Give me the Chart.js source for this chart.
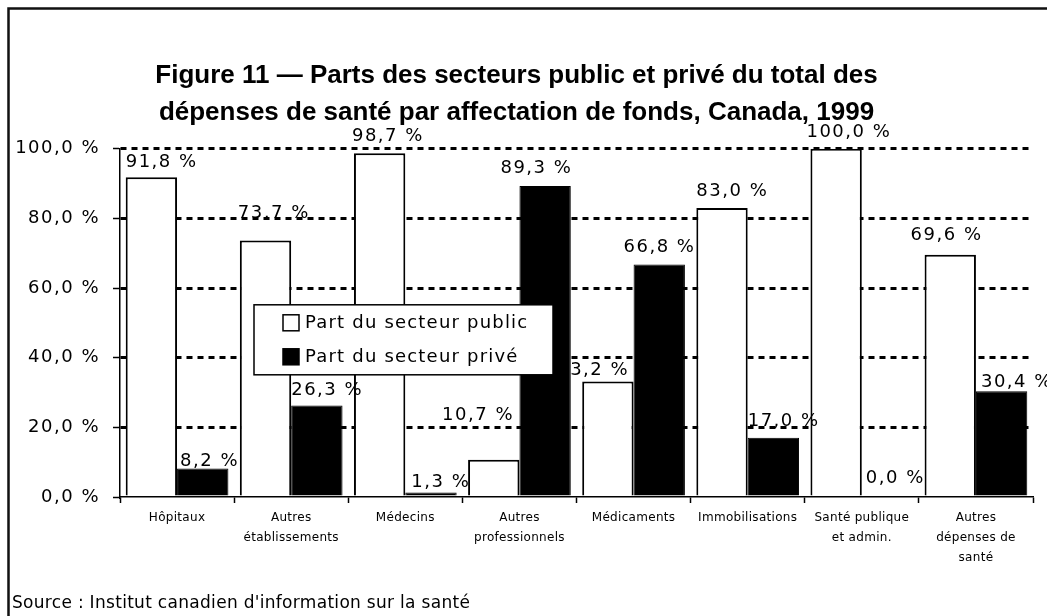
<!DOCTYPE html>
<html lang="fr">
<head>
<meta charset="utf-8">
<title>Figure 11</title>
<script src="https://cdn.jsdelivr.net/npm/chart.js@4/dist/chart.umd.min.js"></script>
<style>
  html, body { margin: 0; padding: 0; background: #fff; }
  #wrap { width: 1047px; height: 616px; }
</style>
</head>
<body>
<div id="wrap"><canvas id="chart" width="1047" height="616"></canvas></div>
<script>
const categories = [
  ["Hôpitaux"],
  ["Autres", "établissements"],
  ["Médecins"],
  ["Autres", "professionnels"],
  ["Médicaments"],
  ["Immobilisations"],
  ["Santé publique", "et admin."],
  ["Autres", "dépenses de", "santé"]
];
const publicShare = [91.8, 73.7, 98.7, 10.7, 33.2, 83.0, 100.0, 69.6];
const privateShare = [8.2, 26.3, 1.3, 89.3, 66.8, 17.0, 0.0, 30.4];
const yTicks = [0, 20, 40, 60, 80, 100];
const seriesNames = ["Part du secteur public", "Part du secteur privé"];
const titleLines = [
  "Figure 11 \u2014 Parts des secteurs public et privé du total des",
  "dépenses de santé par affectation de fonds, Canada, 1999"
];
const sourceText = "Source : Institut canadien d'information sur la santé";

// the value labels were moved by hand in the original, so each one gets a small nudge [dx, dy]
const publicLabelNudge = [[0, 2], [-2, -10], [-2, 0], [-26, -28], [-25, 6], [0, 0], [-4, 0], [-14, -3]];
const privateLabelNudge = [[3, 10], [0, 2], [6, 7], [-19, -1], [-10, 0], [0, 0], [4, -2], [5, 8]];

const TXT = "DejaVu Sans";

function pct(v) {
  return v.toFixed(1).replace(".", ",") + " %";
}

// canvas letterSpacing, to get closer to the wide original font
function spaced(scale, spacing) {
  if (scale._spaced) return;
  scale._spaced = true;
  const orig = scale.drawLabels;
  scale.drawLabels = function (area) {
    const ctx = this.ctx;
    ctx.save();
    ctx.letterSpacing = spacing;
    orig.call(this, area);
    ctx.restore();
  };
}

const decor = {
  id: "decor",
  beforeDraw(chart) {
    const ctx = chart.ctx;
    ctx.save();
    ctx.fillStyle = "#fff";
    ctx.fillRect(0, 0, chart.width, chart.height);
    ctx.restore();
  },
  afterLayout(chart) {
    spaced(chart.scales.y, "1.5px");
    spaced(chart.scales.x, "0.3px");
  },
  afterDatasetsDraw(chart) {
    const ctx = chart.ctx;
    const nudges = [publicLabelNudge, privateLabelNudge];

    // value labels
    ctx.save();
    ctx.letterSpacing = "1.5px";
    ctx.font = "18px '" + TXT + "'";
    ctx.fillStyle = "#000";
    ctx.textAlign = "left";
    ctx.textBaseline = "alphabetic";
    chart.data.datasets.forEach((ds, i) => {
      chart.getDatasetMeta(i).data.forEach((bar, j) => {
        const left = bar.x - bar.width / 2;
        const n = nudges[i][j];
        ctx.fillText(pct(ds.data[j]), left + n[0], bar.y - 12 + n[1]);
      });
    });
    ctx.restore();

    // legend box inside the plot
    const ca = chart.chartArea;
    const lx = ca.left + 134, ly = ca.top + 156, lw = 299, lh = 70;
    ctx.save();
    ctx.fillStyle = "#fff";
    ctx.fillRect(lx, ly, lw, lh);
    ctx.strokeStyle = "#000";
    ctx.lineWidth = 1.5;
    ctx.strokeRect(lx, ly, lw, lh);
    ctx.letterSpacing = "1.2px";
    ctx.font = "18px '" + TXT + "'";
    ctx.textBaseline = "middle";
    chart.data.datasets.forEach((ds, i) => {
      const cy = ly + 18 + i * 34;
      ctx.fillStyle = ds.backgroundColor;
      ctx.fillRect(lx + 29, cy - 8, 16, 16);
      ctx.lineWidth = 1.5;
      ctx.strokeRect(lx + 29, cy - 8, 16, 16);
      ctx.fillStyle = "#000";
      ctx.fillText(ds.label, lx + 51, cy + 1);
    });
    ctx.restore();
  },
  afterDraw(chart) {
    const ctx = chart.ctx;
    ctx.save();
    // outer frame (top and left edges only are in view)
    ctx.strokeStyle = "#111";
    ctx.lineWidth = 2.5;
    ctx.beginPath();
    ctx.moveTo(8.5, chart.height);
    ctx.lineTo(8.5, 8.5);
    ctx.lineTo(chart.width, 8.5);
    ctx.stroke();
    // source line
    ctx.letterSpacing = "0.3px";
    ctx.font = "17px '" + TXT + "'";
    ctx.fillStyle = "#000";
    ctx.textBaseline = "alphabetic";
    ctx.fillText(sourceText, 12, 608);
    ctx.restore();
  }
};

new Chart(document.getElementById("chart"), {
  type: "bar",
  data: {
    labels: categories,
    datasets: [
      {
        label: seriesNames[0],
        data: publicShare,
        backgroundColor: "#ffffff",
        borderColor: "#000",
        borderWidth: 2,
        categoryPercentage: 0.9,
        barPercentage: 1.0
      },
      {
        label: seriesNames[1],
        data: privateShare,
        backgroundColor: "#000000",
        borderColor: "#000",
        borderWidth: 1,
        categoryPercentage: 0.9,
        barPercentage: 1.0
      }
    ]
  },
  options: {
    responsive: false,
    animation: false,
    devicePixelRatio: 1,
    layout: { padding: { left: 0, right: 14, top: 0, bottom: 0 } },
    plugins: {
      legend: { display: false },
      tooltip: { enabled: false },
      title: {
        display: true,
        text: titleLines,
        color: "#000",
        font: { family: "Liberation Sans", size: 26, weight: "bold", lineHeight: 1.4 },
        padding: { top: 58, bottom: 18 }
      }
    },
    scales: {
      x: {
        grid: {
          display: true,
          offset: true,
          drawOnChartArea: false,
          drawTicks: true,
          tickLength: 6,
          tickColor: "#000",
          tickWidth: 1.5
        },
        border: { display: true, color: "#000", width: 1.5 },
        ticks: {
          color: "#000",
          font: { family: TXT, size: 12, lineHeight: 1.65 },
          padding: 5,
          maxRotation: 0,
          autoSkip: false
        },
        afterFit(s) { s.height = 119; }
      },
      y: {
        min: 0,
        max: 100,
        afterBuildTicks(s) { s.ticks = yTicks.map(v => ({ value: v })); },
        grid: {
          color: (c) => (c.tick && c.tick.value === 0 ? "rgba(0,0,0,0)" : "#000"),
          lineWidth: 3,
          drawTicks: true,
          tickLength: 7,
          tickColor: "#000",
          tickWidth: 1.5,
          tickBorderDash: []
        },
        border: { display: true, color: "#000", width: 1.5, dash: [6, 5] },
        ticks: {
          color: "#000",
          font: { family: TXT, size: 18 },
          padding: 13,
          callback: (v) => pct(v)
        },
        afterFit(s) { s.width = 120; }
      }
    }
  },
  plugins: [decor]
});
</script>
</body>
</html>
